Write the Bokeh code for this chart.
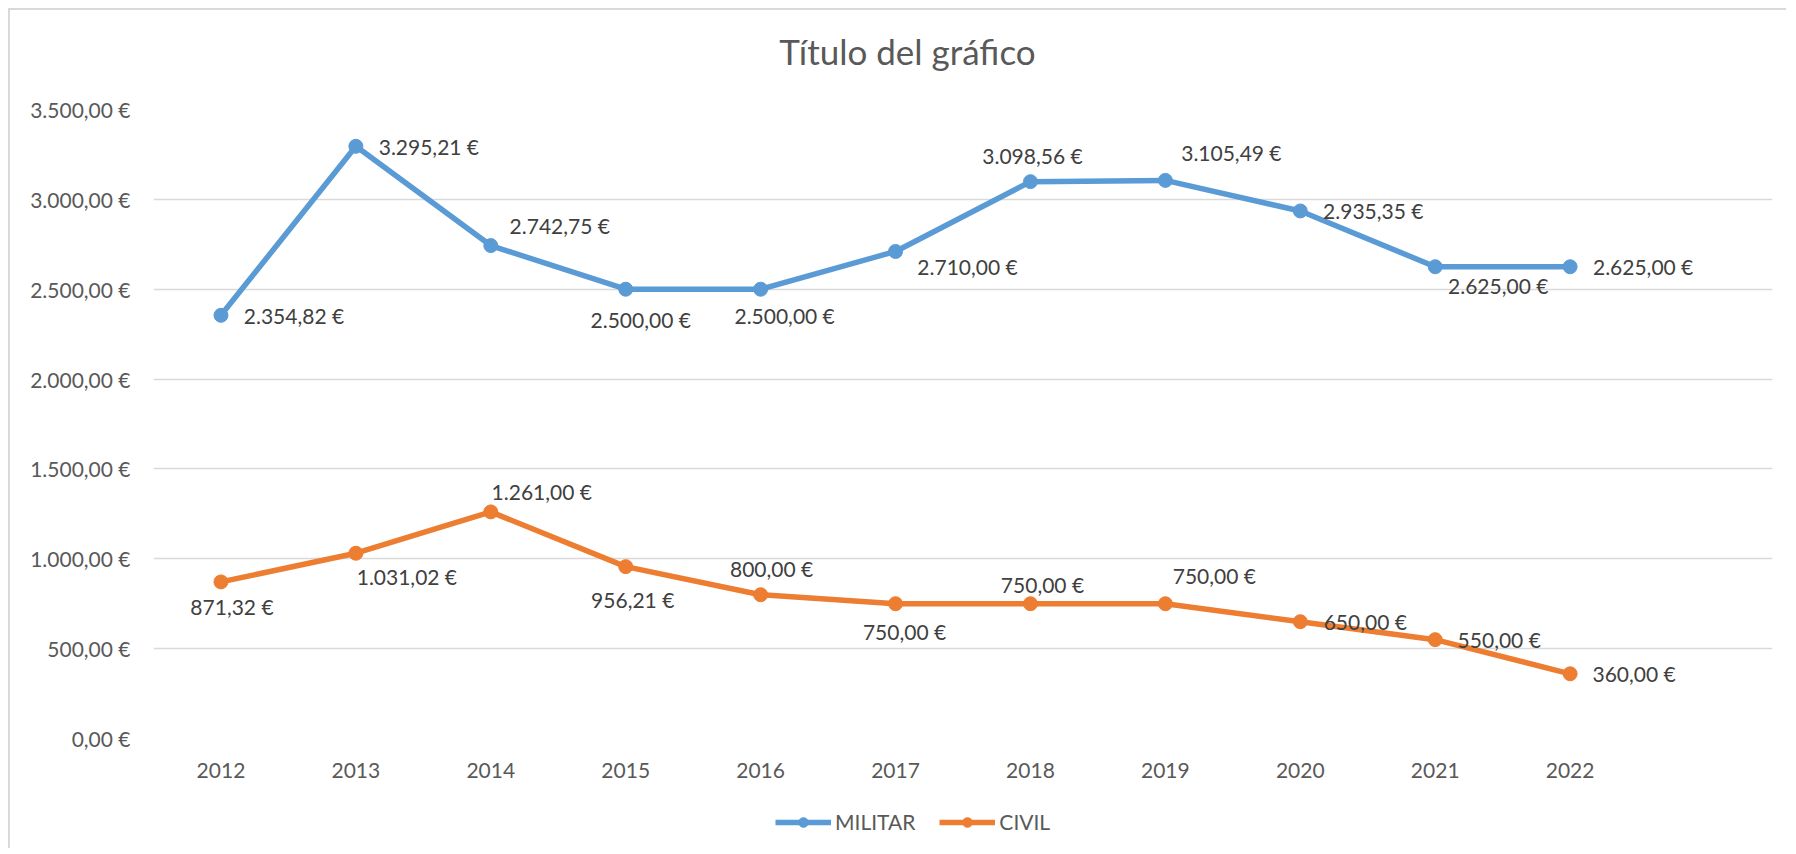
from bokeh.plotting import figure
from bokeh.layouts import column
from bokeh.models import Range1d, FixedTicker, Legend, LegendItem, ColumnDataSource
from bokeh.core.properties import value
from bokeh.embed import file_html
from bokeh.resources import INLINE

# ---- data ----
years = [2012, 2013, 2014, 2015, 2016, 2017, 2018, 2019, 2020, 2021, 2022]
militar = [2354.82, 3295.21, 2742.75, 2500.00, 2500.00, 2710.00, 3098.56, 3105.49, 2935.35, 2625.00, 2625.00]
civil = [871.32, 1031.02, 1261.00, 956.21, 800.00, 750.00, 750.00, 750.00, 650.00, 550.00, 360.00]
series_names = ["MILITAR", "CIVIL"]
y_ticks = [0, 500, 1000, 1500, 2000, 2500, 3000, 3500]
y_tick_labels = ["0,00 €", "500,00 €", "1.000,00 €", "1.500,00 €", "2.000,00 €",
                 "2.500,00 €", "3.000,00 €", "3.500,00 €"]
x_tick_labels = [str(y) for y in years]
title_text = "Título del gráfico"

# ---- label placement (screen px, center of label relative to point) ----
mil_dx = [73, 73, 69, 15, 24, 72, 2, 66, 73, 63, 73]
mil_dy = [0, 0, -20, 30, 26, 15, -26, -28, 0, 19, 0]
civ_dx = [11, 51, 51, 7, 11, 9, 12, 49, 65, 64, 64]
civ_dy = [25, 23, -20, 33, -26, 28, -19, -28, 0, 0, 0]

def fmt(v):
    s = f"{v:,.2f}"
    return s.replace(",", "X").replace(".", ",").replace("X", ".") + " €"

FONT = "Lato"
BLUE = "#5B9BD5"
ORANGE = "#ED7D31"
TXT = "#595959"
LBL = "#404040"
GRID = "#D9D9D9"
W = 1776

def blank_fig(h):
    f = figure(frame_width=W, frame_height=h, output_backend="svg", toolbar_location=None,
               x_axis_type=None, y_axis_type=None, min_border=0,
               x_range=Range1d(0, W), y_range=Range1d(0, h))
    f.grid.visible = False
    f.outline_line_color = None
    f.background_fill_color = "white"
    f.border_fill_color = "white"
    return f

# ---- title strip ----
pt = blank_fig(79)
pt.text(x=[754], y=[39], text=[title_text], text_align="center", text_baseline="middle",
        text_font=value(FONT), text_font_size="35px", text_color=TXT)

# ---- main chart ----
p = figure(frame_width=1619, frame_height=629, output_backend="svg", toolbar_location=None,
           x_range=Range1d(2011.5, 2023.5), y_range=Range1d(0, 3500),
           min_border_left=143, min_border_right=14, min_border_top=20, min_border_bottom=60)
p.outline_line_color = None
p.background_fill_color = "white"
p.border_fill_color = "white"

p.xgrid.grid_line_color = None
p.ygrid.grid_line_color = GRID
p.ygrid.grid_line_width = 1.5

p.yaxis.ticker = FixedTicker(ticks=y_ticks)
p.yaxis.major_label_overrides = {t: l for t, l in zip(y_ticks, y_tick_labels)}
p.xaxis.ticker = FixedTicker(ticks=years)
p.xaxis.major_label_overrides = {y: l for y, l in zip(years, x_tick_labels)}
for ax in (p.xaxis, p.yaxis):
    ax.axis_line_color = None
    ax.major_tick_line_color = None
    ax.minor_tick_line_color = None
    ax.major_label_text_font = FONT
    ax.major_label_text_font_size = "21px"
    ax.major_label_text_color = TXT
p.yaxis.major_label_standoff = 17
p.xaxis.major_label_standoff = 18

src_m = ColumnDataSource(dict(x=years, y=militar, t=[fmt(v) for v in militar], dx=mil_dx, dy=mil_dy))
src_c = ColumnDataSource(dict(x=years, y=civil, t=[fmt(v) for v in civil], dx=civ_dx, dy=civ_dy))

for src, col in ((src_m, BLUE), (src_c, ORANGE)):
    p.line("x", "y", source=src, line_color=col, line_width=5.5, line_join="round")
    p.scatter("x", "y", source=src, size=14, fill_color=col, line_color=col)
    p.text("x", "y", text="t", source=src, x_offset="dx", y_offset="dy",
           text_align="center", text_baseline="middle",
           text_font=value(FONT), text_font_size="21px", text_color=LBL)

# ---- legend strip (proxy renderers reuse the series; their data lies outside this strip's ranges) ----
pl = blank_fig(50)
items = []
for name, vals, col in zip(series_names, (militar, civil), (BLUE, ORANGE)):
    r1 = pl.line(x=years, y=vals, line_color=col, line_width=5.5)
    r2 = pl.scatter(x=years, y=vals, size=14, fill_color=col, line_color=col)
    items.append(LegendItem(label=name, renderers=[r1, r2]))
legend = Legend(items=items, orientation="horizontal", location=(765, 14),
                glyph_width=56, glyph_height=24, label_height=24, label_standoff=4,
                spacing=24, padding=0, margin=0, border_line_color=None,
                background_fill_alpha=0, label_text_font=FONT,
                label_text_font_size="21px", label_text_color=TXT)
pl.add_layout(legend)

layout = column(pt, p, pl, spacing=0,
                styles={"margin-left": "8px", "margin-top": "8px",
                        "border-left": "2px solid #D9D9D9", "border-top": "2px solid #D9D9D9"})

open("out.html", "w").write(file_html(layout, INLINE))
